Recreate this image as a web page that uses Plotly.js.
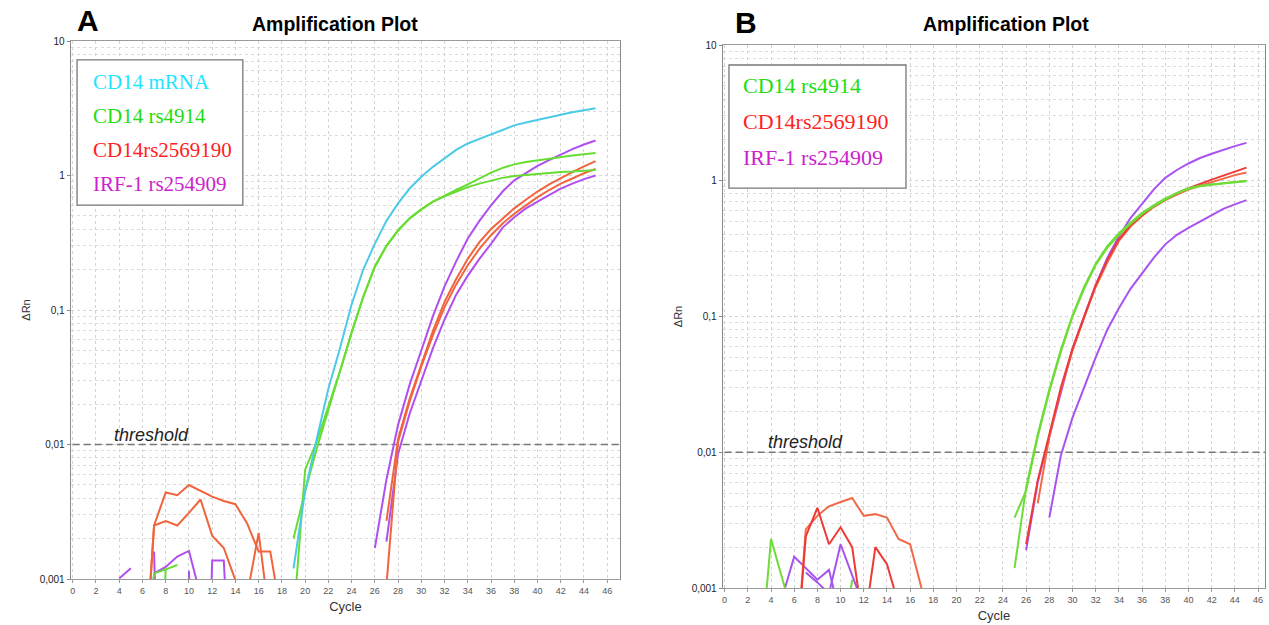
<!DOCTYPE html>
<html>
<head>
<meta charset="utf-8">
<script src="https://cdn.plot.ly/plotly-3.0.1.min.js"></script>
<style>html,body{margin:0;padding:0;background:#fff;}#chart{width:1269px;height:625px;}</style>
</head>
<body>
<div id="chart"></div>
<script>
const n = null;
// cycles 1..45
const cycles = [1,2,3,4,5,6,7,8,9,10,11,12,13,14,15,16,17,18,19,20,21,22,23,24,25,26,27,28,29,30,31,32,33,34,35,36,37,38,39,40,41,42,43,44,45];
const xTickVals = [0,2,4,6,8,10,12,14,16,18,20,22,24,26,28,30,32,34,36,38,40,42,44,46];
const yTickVals = [0.001,0.01,0.1,1,10];
const yTickText = ['0,001','0,01','0,1','1','10'];
const threshold = 0.01;
const thresholdX = [0, 47];

// ---- Panel A ----
const aCD14mRNA = [n, n, n, n, n, n, n, n, n, n, n, n, n, n, n, n, n, n, 0.0012,0.0045,0.011,0.026,0.052,0.11,0.2,0.31,0.46,0.62,0.8,0.98,1.16,1.35,1.55,1.73,1.88,2.02,2.18,2.36,2.48,2.6,2.72,2.83,2.95,3.07,3.16];
const aRs4914_1 = [n, n, n, n, n, 0.0002,0.0011,0.00118,0.00127, n, n, n, n, n, n, n, n, n, 0.002,0.0045,0.0093,0.018,0.034,0.068,0.125,0.21,0.3,0.39,0.48,0.56,0.64,0.71,0.78,0.86,0.95,1.05,1.14,1.21,1.26,1.3,1.34,1.37,1.41,1.44,1.47];
const aRs4914_2 = [n, n, n, n, n, n, 0.00001,0.0012, n, n, n, n, n, n, n, n, n, n, 0.0005,0.0065,0.0105,0.019,0.035,0.068,0.125,0.21,0.3,0.39,0.48,0.56,0.64,0.7,0.76,0.82,0.87,0.92,0.96,0.99,1.01,1.03,1.04,1.06,1.07,1.09,1.1];
const aRs2569190_1 = [n, n, n, n, n, 0.00012,0.0025,0.0044,0.0042,0.005,0.0045,0.0041,0.0038,0.0036,0.0026,0.0016,0.0016,0.0005, n, n, n, n, n, n, n, n, 0.0027,0.011,0.022,0.04,0.07,0.115,0.17,0.24,0.32,0.4,0.48,0.57,0.66,0.76,0.86,0.96,1.06,1.17,1.28];
const aRs2569190_2 = [n, n, n, n, n, 0.00012,0.0025,0.0027,0.0025,0.0031,0.0039,0.0021,0.0017,0.00098,0.00075,0.0022,0.00046, n, n, n, n, n, n, n, n, n, 0.0009,0.0105,0.021,0.038,0.065,0.105,0.155,0.215,0.285,0.36,0.44,0.52,0.6,0.69,0.78,0.87,0.95,1.04,1.12];
const aRs254909_1 = [n, n, n, 0.00101,0.0012, n, 0.0016,0.000001, n, 0.00115,0.000001,0.00137,0.00137,0.00003, n, n, n, n, n, n, n, n, n, n, n, 0.0017,0.0055,0.014,0.028,0.05,0.09,0.15,0.23,0.34,0.46,0.6,0.76,0.92,1.05,1.18,1.3,1.43,1.57,1.7,1.82];
const aRs254909_2 = [n, n, n, n, n, n, 0.0011,0.00123,0.00147,0.00162,0.00075, n, n, n, n, n, n, n, n, n, n, n, n, n, n, n, 0.0019,0.0085,0.017,0.03,0.052,0.085,0.13,0.18,0.24,0.31,0.41,0.49,0.57,0.64,0.72,0.8,0.87,0.94,1.0];

// ---- Panel B ----
const bRs4914_1 = [n, n, 0.00024,0.0023,0.00115,0.00058, n, n, n, n, n, n, n, n, n, n, n, n, n, n, n, n, n, n, 0.0033,0.0052,0.013,0.028,0.055,0.1,0.16,0.24,0.32,0.4,0.48,0.57,0.65,0.73,0.81,0.88,0.92,0.94,0.96,0.975,0.99];
const bRs4914_2 = [n, n, n, n, n, n, n, n, n, 0.0003,0.00115, n, n, n, n, n, n, n, n, n, n, n, n, n, 0.0014,0.0055,0.0135,0.029,0.057,0.102,0.165,0.245,0.33,0.41,0.49,0.58,0.66,0.74,0.81,0.87,0.91,0.94,0.96,0.98,1.0];
const bRs2569190_1 = [n, n, n, n, n, 0.0002,0.0024,0.0039,0.0021,0.0028,0.002,0.0005,0.002,0.0015,0.00076, n, n, n, n, n, n, n, n, n, n, 0.0021,0.0062,0.0135,0.03,0.058,0.1,0.17,0.26,0.37,0.47,0.56,0.65,0.73,0.81,0.88,0.95,1.02,1.09,1.17,1.25];
const bRs2569190_2 = [n, n, n, n, n, 0.0002,0.0027,0.0034,0.004,0.0043,0.0046,0.0034,0.0035,0.0033,0.0023,0.0021,0.00098, n, n, n, n, n, n, n, n, n, 0.0042,0.013,0.029,0.056,0.098,0.165,0.25,0.36,0.46,0.55,0.64,0.72,0.79,0.86,0.92,0.98,1.04,1.1,1.15];
const bRs254909_1 = [n, n, n, n, 0.00087,0.0017,0.0014,0.00115,0.00136,0.0006, n, n, n, n, n, n, n, n, n, n, n, n, n, n, n, 0.0019,0.006,0.013,0.028,0.058,0.1,0.17,0.27,0.39,0.53,0.68,0.86,1.05,1.2,1.34,1.47,1.58,1.69,1.8,1.9];
const bRs254909_2 = [n, n, n, n, n, n, 0.0013,0.0011,0.00091,0.0021,0.00124,0.00073, n, n, n, n, n, n, n, n, n, n, n, n, n, n, n, 0.0033,0.0095,0.018,0.03,0.05,0.08,0.115,0.16,0.21,0.27,0.34,0.4,0.45,0.5,0.56,0.62,0.67,0.72];

const legendA = ['CD14 mRNA','CD14 rs4914','CD14rs2569190','IRF-1 rs254909'];
const legendB = ['CD14 rs4914','CD14rs2569190','IRF-1 rs254909'];

const C = {
  cyan:'#4ccae8', green:'#66dd33', redA:'#f0643e', purple:'#b04ff0',
  redB:'#ee3a36', redB2:'#f26a4a', greenB:'#6fdc38', purpleB:'#a852f0'
};
const legendColorsA = ['#1ee4ff','#22dd11','#ff2222','#cc22cc'];
const legendColorsB = ['#22dd11','#ff2222','#cc22cc'];

function tr(y, color, xa, ya) {
  return {x: cycles, y: y, type:'scatter', mode:'lines', connectgaps:false,
    line:{color:color, width:2}, xaxis:xa, yaxis:ya, hoverinfo:'skip'};
}
function thr(xa, ya) {
  return {x: thresholdX, y:[threshold, threshold], type:'scatter', mode:'lines',
    line:{color:'#777', width:1.3, dash:'7px,4px'}, xaxis:xa, yaxis:ya, hoverinfo:'skip'};
}

const data = [
  thr('x','y'),
  tr(aRs254909_1, C.purple,'x','y'), tr(aRs254909_2, C.purple,'x','y'),
  tr(aRs2569190_1, C.redA,'x','y'), tr(aRs2569190_2, C.redA,'x','y'),
  tr(aRs4914_1, C.green,'x','y'), tr(aRs4914_2, C.green,'x','y'),
  tr(aCD14mRNA, C.cyan,'x','y'),
  thr('x2','y2'),
  tr(bRs254909_1, C.purpleB,'x2','y2'), tr(bRs254909_2, C.purpleB,'x2','y2'),
  tr(bRs2569190_2, C.redB2,'x2','y2'), tr(bRs2569190_1, C.redB,'x2','y2'),
  tr(bRs4914_1, C.greenB,'x2','y2'), tr(bRs4914_2, C.greenB,'x2','y2')
];

function xax(domain, range, anchor, standoff) {
  return {domain:domain, anchor:anchor, range:range, tickmode:'array', tickvals:xTickVals,
    showgrid:true, gridcolor:'#d4d4d4', griddash:'dot', gridwidth:1, zeroline:false,
    showline:true, linecolor:'#9a9a9a', linewidth:1.3, mirror:true,
    ticks:'outside', ticklen:3, tickcolor:'#999', tickfont:{size:9, color:'#555'},
    title:{text:'Cycle', font:{size:13, color:'#333'}, standoff:standoff}};
}
function yax(domain, anchor) {
  return {domain:domain, anchor:anchor, type:'log', range:[-3,1], tickmode:'array',
    tickvals:yTickVals, ticktext:yTickText,
    showgrid:true, gridcolor:'#d4d4d4', griddash:'dot', zeroline:false,
    minor:{dtick:'D1', showgrid:true, gridcolor:'#dcdcdc', griddash:'dot', ticks:''},
    showline:true, linecolor:'#8a8a8a', linewidth:1.3, mirror:true,
    ticks:'outside', ticklen:3, tickcolor:'#888', tickfont:{size:10, color:'#222'},
    title:{text:'ΔRn', font:{size:11, color:'#333'}, standoff:6}};
}

const annotations = [];
const shapes = [];
function legend(labels, colors, xa, ya, x0, ys, size) {
  labels.forEach((t,i)=>{
    annotations.push({text:t, xref:xa+' domain', yref:ya+' domain', x:x0, y:ys[i],
      xanchor:'left', yanchor:'middle', showarrow:false,
      font:{family:'Liberation Serif, Times New Roman, serif', size:size, color:colors[i]}});
  });
}
legend(legendA, legendColorsA, 'x', 'y', 0.036, [0.9238, 0.861, 0.7974, 0.7342], 21);
legend(legendB, legendColorsB, 'x2', 'y2', 0.034, [0.9245, 0.8582, 0.7919], 22);
shapes.push({type:'rect', xref:'x domain', yref:'y domain', x0:0.011, x1:0.313, y0:0.695, y1:0.965,
  line:{color:'#777', width:1.3}, fillcolor:'rgba(255,255,255,1)', layer:'above'});
shapes.push({type:'rect', xref:'x2 domain', yref:'y2 domain', x0:0.011, x1:0.3376, y0:0.7366, y1:0.9632,
  line:{color:'#777', width:1.3}, fillcolor:'rgba(255,255,255,1)', layer:'above'});

// threshold labels
annotations.push({text:'<i>threshold</i>', xref:'x', yref:'y', x:6.78, y:Math.log10(threshold), yshift:10,
  xanchor:'center', yanchor:'middle', showarrow:false, font:{size:18, color:'#222'}});
annotations.push({text:'<i>threshold</i>', xref:'x2', yref:'y2', x:6.94, y:Math.log10(threshold), yshift:10,
  xanchor:'center', yanchor:'middle', showarrow:false, font:{size:18, color:'#222'}});

// panel titles
annotations.push({text:'<b>A</b>', xref:'paper', yref:'paper', x:75/1269, y:1-21/625, xanchor:'left', yanchor:'middle',
  showarrow:false, font:{size:30, color:'#000'}});
annotations.push({text:'<b>B</b>', xref:'paper', yref:'paper', x:733/1269, y:1-22/625, xanchor:'left', yanchor:'middle',
  showarrow:false, font:{size:30, color:'#000'}});
annotations.push({text:'<b>Amplification Plot</b>', xref:'paper', yref:'paper', x:335/1269, y:1-24/625, xanchor:'center', yanchor:'middle',
  showarrow:false, font:{size:19.5, color:'#000'}});
annotations.push({text:'<b>Amplification Plot</b>', xref:'paper', yref:'paper', x:1006/1269, y:1-24/625, xanchor:'center', yanchor:'middle',
  showarrow:false, font:{size:19.5, color:'#000'}});

const layout = {
  width:1269, height:625, margin:{l:0, r:0, t:0, b:0},
  paper_bgcolor:'#fff', plot_bgcolor:'#fff', showlegend:false,
  font:{family:'Liberation Sans, Arial, sans-serif'},
  xaxis: xax([71/1269, 620/1269], [-0.15, 47.1], 'y', 6),
  yaxis: yax([1-579/625, 1-41/625], 'x'),
  xaxis2: xax([723/1269, 1265/1269], [-0.14, 46.6], 'y2', 6),
  yaxis2: yax([1-588/625, 1-45/625], 'x2'),
  annotations: annotations,
  shapes: shapes
};

Plotly.newPlot('chart', data, layout, {staticPlot:true, displayModeBar:false});
</script>
</body>
</html>
